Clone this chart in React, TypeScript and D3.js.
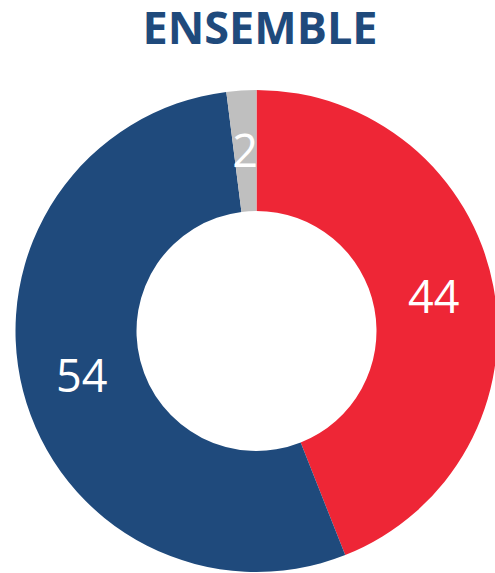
import { useEffect, useRef } from 'react'
import * as d3 from 'd3'

const categories = ['Rouge', 'Bleu', 'Autre']
const values = [44, 54, 2]
const colors = ['#EE2636', '#1F4A7C', '#BFBFBF']
const title = 'ENSEMBLE'

const App = () => {
  const ref = useRef<SVGSVGElement>(null)

  useEffect(() => {
    const width = 495
    const height = 573
    const cx = 256.5
    const cy = 331
    const outer = 241
    const inner = 120

    const svg = d3.select(ref.current)
    svg.selectAll('*').remove()
    svg.attr('width', width).attr('height', height)

    svg.append('text')
      .attr('x', 260)
      .attr('y', 44)
      .attr('text-anchor', 'middle')
      .style('font-family', '"Open Sans", sans-serif')
      .style('font-weight', 'bold')
      .style('font-size', '45px')
      .style('fill', '#1F4A7C')
      .text(title)

    const pie = d3.pie<number>().sort(null).value(d => d)
    const arc = d3.arc<d3.PieArcDatum<number>>().innerRadius(inner).outerRadius(outer)
    const arcs = pie(values)

    const g = svg.append('g').attr('transform', `translate(${cx},${cy})`)

    g.selectAll('path')
      .data(arcs)
      .enter()
      .append('path')
      .attr('d', arc)
      .attr('fill', (_, i) => colors[i])
      .attr('data-name', (_, i) => categories[i])

    g.selectAll('.label')
      .data(arcs)
      .enter()
      .append('text')
      .attr('class', 'label')
      .attr('transform', d => `translate(${arc.centroid(d)})`)
      .attr('text-anchor', 'middle')
      .attr('dy', '0.36em')
      .style('font-family', '"Open Sans", sans-serif')
      .style('font-size', '45px')
      .style('fill', '#fff')
      .text(d => d.data)
  }, [])

  return <svg ref={ref} style={{ position: 'absolute', left: 0, top: 0 }}></svg>
}

export default App
